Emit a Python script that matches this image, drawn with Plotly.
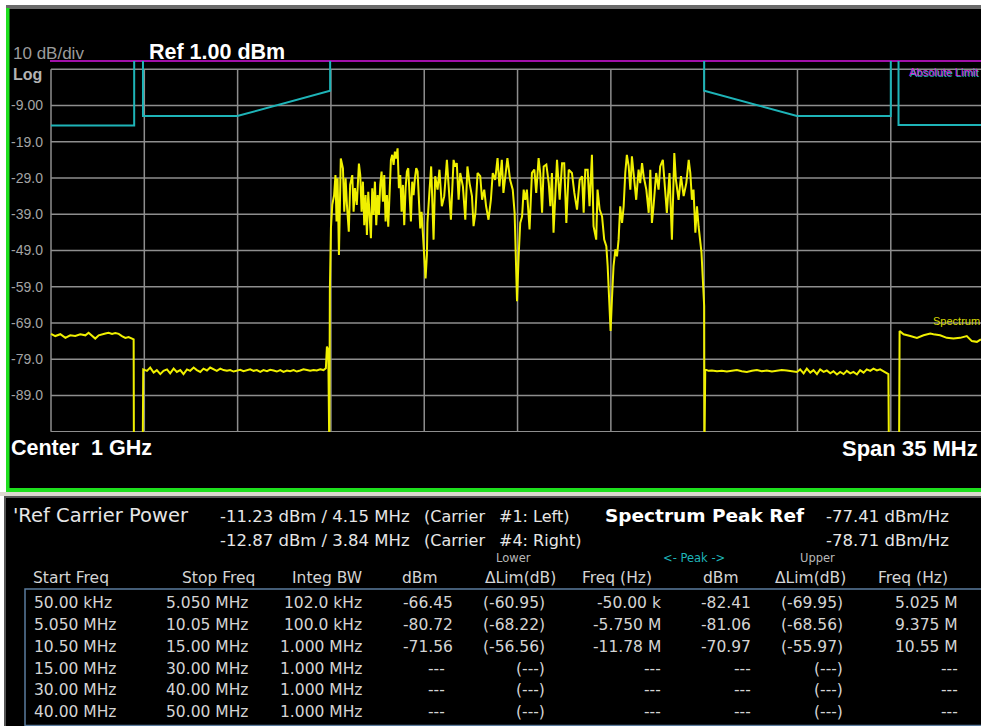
import plotly.graph_objects as go

# ---------------- data ----------------
# frequency offsets from centre (MHz) and trace level (dBm)
left_noise_f = [-17.50, -17.34, -17.15, -16.96, -16.78, -16.59, -16.40, -16.21, -16.09, -15.96, -15.84,
                -15.71, -15.59, -15.46, -15.34, -15.21, -15.09, -14.96, -14.84, -14.71, -14.59, -14.46, -14.40]
left_noise_db = [-72.0, -72.6, -72.1, -73.1, -72.4, -72.6, -72.1, -72.4, -71.7, -72.4, -73.3,
                 -72.4, -72.1, -71.9, -71.7, -72.0, -71.8, -72.0, -72.6, -73.1, -72.9, -73.3, -73.5]

gap1_f = [-14.39, -14.06]
gap1_db = [-105.0, -105.0]

midleft_noise_f = [-14.04, -13.90, -13.78, -13.65, -13.53, -13.40, -13.28, -13.15, -13.03, -12.90, -12.78,
                   -12.65, -12.53, -12.40, -12.28, -12.15, -12.03, -11.90, -11.78, -11.65, -11.53, -11.40,
                   -11.28, -11.15, -11.03, -10.90, -10.78, -10.65, -10.53, -10.40, -10.28, -10.15, -10.03,
                   -9.90, -9.78, -9.65, -9.53, -9.40, -9.28, -9.15, -9.03, -8.90, -8.78, -8.65, -8.53,
                   -8.40, -8.28, -8.15, -8.03, -7.90, -7.78, -7.65, -7.53, -7.40, -7.28, -7.19, -7.15,
                   -7.10, -7.06]
midleft_noise_db = [-81.8, -82.2, -81.3, -82.7, -82.0, -83.1, -82.2, -81.8, -82.9, -81.6, -82.5,
                    -82.0, -83.1, -81.8, -82.2, -81.3, -82.0, -82.5, -81.6, -82.1, -81.3, -81.8,
                    -82.2, -81.6, -82.0, -82.2, -82.0, -82.4, -82.1, -81.9, -82.3, -82.0, -81.8,
                    -82.2, -82.0, -82.5, -82.0, -82.3, -81.9, -82.1, -82.4, -82.0, -82.5, -82.1,
                    -82.3, -82.0, -82.4, -82.1, -81.8, -82.0, -82.2, -82.0, -82.1, -81.8, -82.0,
                    -81.5, -75.5, -76.5, -105.0]

# carrier #1 (densely read)
carrier1_f = [-7.04, -7.00, -6.95, -6.88, -6.83, -6.79, -6.75, -6.70, -6.63, -6.55, -6.50, -6.45, -6.40,
              -6.33, -6.28, -6.20, -6.15, -6.10, -6.03, -5.95, -5.90, -5.85, -5.80, -5.75, -5.70, -5.65,
              -5.60, -5.55, -5.50, -5.45, -5.40, -5.35, -5.30, -5.25, -5.20, -5.15, -5.10, -5.05, -5.00,
              -4.95, -4.90, -4.85, -4.80, -4.75, -4.70, -4.65, -4.60, -4.55, -4.50, -4.45, -4.40, -4.35,
              -4.30, -4.25, -4.20, -4.15, -4.10, -4.05, -4.00, -3.95, -3.90, -3.85, -3.80, -3.75, -3.70,
              -3.65, -3.60, -3.55, -3.50, -3.45, -3.40]
carrier1_db = [-60.0, -42.9, -36.4, -33.7, -28.2, -41.0, -29.1, -50.2, -23.6, -26.3, -38.3, -29.1, -36.4,
               -43.8, -30.9, -28.2, -38.3, -31.8, -36.4, -25.0, -28.2, -38.3, -30.0, -42.0, -33.7, -44.7,
               -32.8, -38.3, -45.6, -31.8, -39.2, -30.0, -42.0, -33.7, -39.2, -30.9, -27.2, -35.5, -28.2,
               -41.0, -33.7, -42.4, -31.8, -24.0, -22.6, -25.4, -21.7, -23.6, -20.8, -31.8, -28.2, -38.3,
               -30.9, -42.0, -31.8, -27.2, -26.3, -36.4, -41.0, -30.0, -33.7, -29.1, -26.3, -27.2, -37.4,
               -42.9, -38.3, -43.8, -50.2, -56.7, -50.2]

# carriers #2..#4
signal_f = [-3.38, -3.30, -3.24, -3.15,
            -3.09, -3.00, -2.93, -2.84, -2.75, -2.65, -2.58, -2.50, -2.40, -2.34, -2.28, -2.21, -2.15,
            -2.05, -1.96, -1.88, -1.80, -1.71, -1.65, -1.58, -1.50, -1.40, -1.33, -1.25, -1.18, -1.09,
            -1.00, -0.93, -0.84, -0.75, -0.68, -0.59, -0.53, -0.45, -0.38, -0.28, -0.18, -0.11, -0.07,
            -0.02, 0.04, 0.10, 0.17, 0.23, 0.29, 0.35, 0.45, 0.54, 0.63, 0.70, 0.79, 0.85, 0.92, 0.98,
            1.08, 1.17, 1.23, 1.29, 1.35, 1.42, 1.48, 1.58, 1.67, 1.75, 1.83, 1.92, 2.04, 2.13, 2.23,
            2.33, 2.42, 2.48, 2.54, 2.63, 2.70, 2.79, 2.85, 2.95, 3.00, 3.08, 3.17, 3.25, 3.33, 3.38,
            3.42, 3.45, 3.49, 3.54, 3.60, 3.67, 3.73, 3.79, 3.85, 3.92, 3.98, 4.04, 4.10, 4.17, 4.23,
            4.29, 4.35, 4.45, 4.54, 4.60, 4.67, 4.73, 4.83, 4.92, 4.98, 5.04, 5.10, 5.20, 5.29, 5.35,
            5.45, 5.54, 5.60, 5.70, 5.79, 5.88, 5.94, 6.04, 6.13, 6.23, 6.33, 6.42, 6.48, 6.54, 6.60,
            6.67, 6.73, 6.79, 6.85, 6.90, 6.95, 7.00, 7.01]
signal_db = [-41.4, -32.2, -25.8, -46.0,
             -28.5, -32.2, -26.7, -36.8, -34.0, -24.0, -32.2, -40.5, -24.0, -25.8, -24.9, -35.0, -27.6,
             -31.3, -40.5, -25.8, -30.4, -34.0, -42.3, -38.6, -27.6, -28.5, -35.0, -32.2, -36.8, -40.5,
             -35.0, -27.6, -29.5, -23.5, -31.3, -24.0, -33.1, -27.6, -23.5, -29.5, -32.2, -38.6, -48.7,
             -63.0, -50.6, -41.4, -39.6, -32.2, -35.0, -32.2, -43.2, -27.6, -26.7, -33.1, -23.5, -27.6,
             -38.6, -25.8, -25.3, -30.4, -36.8, -27.6, -44.1, -32.2, -24.0, -35.0, -24.9, -24.9, -41.4,
             -26.7, -27.6, -33.1, -37.7, -29.5, -28.5, -38.6, -26.7, -26.7, -36.8, -22.6, -42.3, -46.0,
             -32.2, -37.7, -39.6, -46.0, -47.8, -53.3, -58.8, -64.3, -71.2, -62.5, -53.3, -48.7, -50.6,
             -46.0, -36.8, -41.4, -36.8, -27.6, -22.6, -25.8, -32.2, -23.0, -27.6, -35.0, -26.7, -30.4,
             -24.9, -28.5, -32.2, -38.6, -26.7, -41.4, -36.8, -27.6, -32.2, -25.8, -24.0, -33.1, -38.6,
             -27.6, -46.0, -22.1, -29.5, -35.0, -28.5, -34.0, -30.4, -24.0, -27.6, -35.0, -32.2, -44.1,
             -36.8, -42.3, -46.0, -49.6, -57.0, -64.3, -105.0]

midright_noise_f = [7.04, 7.16, 7.29, 7.48, 7.66, 7.85, 8.04, 8.23, 8.41, 8.60, 8.79, 8.98, 9.16, 9.35,
                    9.54, 9.73, 9.91, 10.10, 10.29, 10.48, 10.60, 10.73, 10.85, 10.98, 11.10, 11.23,
                    11.35, 11.48, 11.60, 11.73, 11.85, 11.98, 12.10, 12.23, 12.35, 12.48, 12.60, 12.73,
                    12.85, 12.98, 13.10, 13.23, 13.35, 13.48, 13.60, 13.73, 13.85, 13.91]
midright_noise_db = [-81.8, -82.2, -82.1, -82.3, -82.2, -82.4, -82.1, -82.0, -82.3, -82.5, -82.2, -82.0,
                     -82.3, -82.1, -82.4, -82.2, -82.0, -82.1, -82.3, -82.5, -81.8, -82.9, -81.6, -82.7,
                     -82.0, -83.1, -81.8, -82.5, -82.1, -82.9, -82.3, -83.2, -82.5, -83.1, -82.2, -82.9,
                     -82.5, -83.2, -82.0, -82.7, -81.8, -82.2, -81.6, -82.1, -81.8, -82.3, -82.9, -83.1]

gap2_f = [13.93, 14.31]
gap2_db = [-105.0, -105.0]

right_noise_f = [14.33, 14.48, 14.73, 14.98, 15.23, 15.48, 15.60, 15.85, 16.10, 16.35, 16.60, 16.85,
                 17.04, 17.23, 17.38]
right_noise_db = [-71.2, -72.1, -72.6, -73.1, -72.4, -71.9, -72.1, -72.4, -73.1, -73.3, -73.1, -72.6,
                  -74.0, -74.2, -73.5]

# limit mask (cyan) - None breaks the line
mask_f = [-17.5, -14.38, -14.38, None, -14.05, -14.05, -10.51, -7.03, -7.03, None,
          7.00, 7.00, 10.48, 14.00, 14.00, None, 14.29, 14.29, 17.5]
mask_db = [-14.5, -14.5, 3.3, None, 3.3, -11.9, -11.9, -4.9, 3.3, None,
           3.3, -4.9, -11.9, -11.9, 3.3, None, 3.3, -14.4, -14.4]

abs_limit_f = [-17.6, 17.6]
abs_limit_db = [3.3, 3.3]

# axes / grid
x_grid = [-17.5, -14.0, -10.5, -7.0, -3.5, 0.0, 3.5, 7.0, 10.5, 14.0, 17.5]
y_grid = [1, -9, -19, -29, -39, -49, -59, -69, -79, -89, -99]
y_tickvals = [-9, -19, -29, -39, -49, -59, -69, -79, -89]
y_ticktext = ["-9.00", "-19.0", "-29.0", "-39.0", "-49.0", "-59.0", "-69.0", "-79.0", "-89.0"]

# table
start_freq = ["50.00 kHz", "5.050 MHz", "10.50 MHz", "15.00 MHz", "30.00 MHz", "40.00 MHz"]
stop_freq = ["5.050 MHz", "10.05 MHz", "15.00 MHz", "30.00 MHz", "40.00 MHz", "50.00 MHz"]
integ_bw = ["102.0 kHz", "100.0 kHz", "1.000 MHz", "1.000 MHz", "1.000 MHz", "1.000 MHz"]
lower_dbm = ["-66.45", "-80.72", "-71.56", "---", "---", "---"]
lower_dlim = ["(-60.95)", "(-68.22)", "(-56.56)", "(---)", "(---)", "(---)"]
lower_freq = ["-50.00 k", "-5.750 M", "-11.78 M", "---", "---", "---"]
peak_dbm = ["-82.41", "-81.06", "-70.97", "---", "---", "---"]
upper_dlim = ["(-69.95)", "(-68.56)", "(-55.97)", "(---)", "(---)", "(---)"]
upper_freq = ["5.025 M", "9.375 M", "10.55 M", "---", "---", "---"]

# ---------------- figure ----------------
W, H = 981, 726
ML, MR, MT, MB = 50, 0, 60, 294
PW = W - ML - MR
PH = H - MT - MB


def px(x):
    return (x - ML) / PW


def py(y):
    return (H - MB - y) / PH


trace_f = (left_noise_f + gap1_f + midleft_noise_f + carrier1_f + signal_f + midright_noise_f
           + gap2_f + right_noise_f)
trace_db = (left_noise_db + gap1_db + midleft_noise_db + carrier1_db + signal_db + midright_noise_db
            + gap2_db + right_noise_db)

fig = go.Figure()
fig.add_trace(go.Scatter(x=abs_limit_f, y=abs_limit_db, mode="lines",
                         line=dict(color="#a010a8", width=2.2), hoverinfo="skip"))
fig.add_trace(go.Scatter(x=mask_f, y=mask_db, mode="lines", connectgaps=False,
                         line=dict(color="#1eb4b8", width=2), hoverinfo="skip"))
fig.add_trace(go.Scatter(x=trace_f, y=trace_db, mode="lines",
                         line=dict(color="#f0f000", width=2.0), hoverinfo="skip"))

shapes = []
# frame/background pieces (paper coordinates)
shapes.append(dict(type="rect", xref="paper", yref="paper", layer="below",
                   x0=px(6), x1=px(990), y0=py(492), y1=py(6), fillcolor="black", line=dict(width=0)))
shapes.append(dict(type="rect", xref="paper", yref="paper", layer="below",
                   x0=px(6), x1=px(990), y0=py(9), y1=py(5), fillcolor="#6a6a6a", line=dict(width=0)))
shapes.append(dict(type="rect", xref="paper", yref="paper", layer="below",
                   x0=px(6), x1=px(9.5), y0=py(492), y1=py(8), fillcolor="#1ee01e", line=dict(width=0)))
shapes.append(dict(type="rect", xref="paper", yref="paper", layer="below",
                   x0=px(6), x1=px(990), y0=py(492), y1=py(488), fillcolor="#1ee01e", line=dict(width=0)))
shapes.append(dict(type="rect", xref="paper", yref="paper", layer="below",
                   x0=px(0), x1=px(990), y0=py(496), y1=py(492), fillcolor="#dcd9d0", line=dict(width=0)))
shapes.append(dict(type="rect", xref="paper", yref="paper", layer="below",
                   x0=px(4), x1=px(990), y0=py(730), y1=py(496), fillcolor="#555555", line=dict(width=0)))
shapes.append(dict(type="rect", xref="paper", yref="paper", layer="below",
                   x0=px(6), x1=px(990), y0=py(730), y1=py(498), fillcolor="black", line=dict(width=0)))
# table box
shapes.append(dict(type="rect", xref="paper", yref="paper", layer="above",
                   x0=px(25), x1=px(995), y0=py(725.5), y1=py(589), fillcolor="rgba(0,0,0,0)",
                   line=dict(color="#5b7c9e", width=1.5)))
# grid (data coordinates)
for gx in x_grid:
    shapes.append(dict(type="line", xref="x", yref="y", layer="below",
                       x0=gx, x1=gx, y0=y_grid[-1], y1=y_grid[0],
                       line=dict(color="#8e8e8e", width=1.5)))
for gy in y_grid:
    shapes.append(dict(type="line", xref="x", yref="y", layer="below",
                       x0=x_grid[0], x1=x_grid[-1], y0=gy, y1=gy,
                       line=dict(color="#8e8e8e", width=1.5)))

ann = []


def text(t, x, y, anchor="left", size=15, color="#d4d4d4", bold=False, family="DejaVu Sans"):
    if bold:
        t = "<b>" + t + "</b>"
    ann.append(dict(text=t, xref="paper", yref="paper", x=px(x), y=py(y), xanchor=anchor,
                    yanchor="middle", showarrow=False,
                    font=dict(size=size, color=color, family=family)))


ARIAL = "Liberation Sans"
text("10 dB/div", 11, 53.5, size=17, color="#9c9c9c", family=ARIAL)
text("Log", 11, 75, size=16, color="#b4b4b4", bold=True, family=ARIAL)
text("Ref 1.00 dBm", 147, 52, size=21.5, color="white", bold=True, family=ARIAL)
text("Center  1 GHz", 9, 448, size=21.5, color="white", bold=True, family=ARIAL)
text("Span 35 MHz", 980, 448, anchor="right", size=22, color="white", bold=True, family=ARIAL)
text("Absolute Limit", 908, 73.5, size=11, color="#1eb4b8", family=ARIAL)
text("Absolute Limit", 907, 72.5, size=11, color="#d030d8", family=ARIAL)
text("Spectrum", 931, 321, size=11, color="#d8d800", family=ARIAL)

# table header block
text("'Ref Carrier Power", 11, 515, size=19.5, color="#e6e6e6")
text("-11.23 dBm / 4.15 MHz", 218, 516, size=16.5, color="#e6e6e6")
text("(Carrier", 422, 516, size=16, color="#e6e6e6")
text("#1: Left)", 497, 516, size=16, color="#e6e6e6")
text("-12.87 dBm / 3.84 MHz", 218, 540, size=16.5, color="#e6e6e6")
text("(Carrier", 422, 540, size=16, color="#e6e6e6")
text("#4: Right)", 497, 540, size=16, color="#e6e6e6")
text("Spectrum Peak Ref", 603, 515, size=18.5, color="white", bold=True)
text("-77.41 dBm/Hz", 824, 516, size=16.5, color="#e6e6e6")
text("-78.71 dBm/Hz", 824, 540, size=16.5, color="#e6e6e6")
text("Lower", 513, 558, anchor="center", size=11.5, color="#b8b8b8")
text("&lt;- Peak -&gt;", 694, 558, anchor="center", size=11.5, color="#1eb4b8")
text("Upper", 817, 558, anchor="center", size=11.5, color="#b8b8b8")

hy = 578
text("Start Freq", 31, hy, size=15.5)
text("Stop Freq", 257, hy, anchor="right", size=15.5)
text("Integ BW", 364, hy, anchor="right", size=15.5)
text("dBm", 440, hy, anchor="right", size=15.5)
text("ΔLim(dB)", 558, hy, anchor="right", size=15.5)
text("Freq (Hz)", 654, hy, anchor="right", size=15.5)
text("dBm", 741, hy, anchor="right", size=15.5)
text("ΔLim(dB)", 848, hy, anchor="right", size=15.5)
text("Freq (Hz)", 950, hy, anchor="right", size=15.5)

row_y = [603, 625, 647, 668.5, 690, 711.5]
for i, ry in enumerate(row_y):
    text(start_freq[i], 32, ry, size=15.5)
    text(stop_freq[i], 250, ry, anchor="right", size=15.5)
    text(integ_bw[i], 364, ry, anchor="right", size=15.5)
    text(lower_dbm[i], 455 if lower_dbm[i] != "---" else 447, ry, anchor="right", size=15.5)
    text(lower_dlim[i], 547, ry, anchor="right", size=15.5)
    text(lower_freq[i], 663, ry, anchor="right", size=15.5)
    text(peak_dbm[i], 753, ry, anchor="right", size=15.5)
    text(upper_dlim[i], 845, ry, anchor="right", size=15.5)
    text(upper_freq[i], 960, ry, anchor="right", size=15.5)

x_lo = x_grid[0] - 1.0 / 26.66
x_hi = x_lo + PW / 26.66
fig.update_layout(
    width=W, height=H,
    margin=dict(l=ML, r=MR, t=MT, b=MB, pad=0),
    paper_bgcolor="white", plot_bgcolor="black",
    showlegend=False,
    shapes=shapes, annotations=ann,
    xaxis=dict(range=[x_lo, x_hi], showgrid=False, zeroline=False, showticklabels=False,
               showline=False, ticks=""),
    yaxis=dict(range=[-99.08, 3.57], showgrid=False, zeroline=False, showline=False,
               tickmode="array", tickvals=y_tickvals, ticktext=y_ticktext, ticks="",
               ticklabelstandoff=6,
               tickfont=dict(size=14, color="#a4a4a4", family="Liberation Sans")),
)

fig.write_html("out.html", config={"displayModeBar": False},
               post_script="document.body.style.margin='0px';document.body.style.overflow='hidden';")
